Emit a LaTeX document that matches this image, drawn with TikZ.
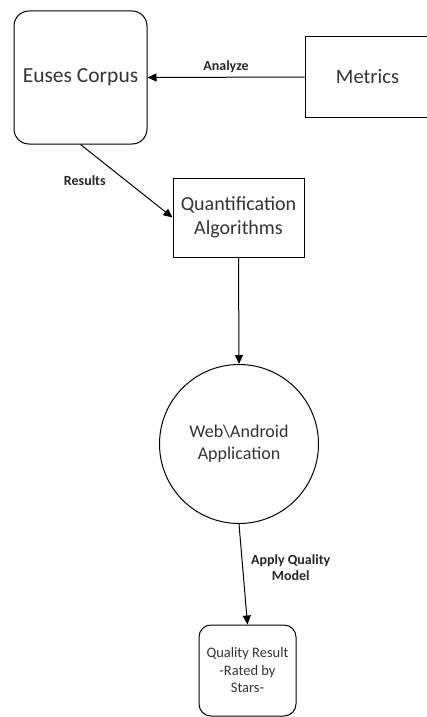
\documentclass[tikz,border=0pt]{standalone}
\usepackage{fontspec}
\setmainfont{Carlito}
\usetikzlibrary{arrows.meta,shapes.geometric}
\tikzset{
  box/.style={draw, line width=1pt, align=center, inner sep=2pt, text=black!80},
  rbox/.style={box, rounded corners=15pt},
  arr/.style={-{Triangle[length=9pt,width=8pt]}, line width=1pt},
  lbl/.style={font=\fontsize{14}{16}\selectfont\bfseries, align=center, text=black!85},
}
\begin{document}
\begin{tikzpicture}[x=1pt,y=-1pt]
  \useasboundingbox (0,0) rectangle (427,717);
  % process boxes
  \node[rbox, minimum width=133pt, minimum height=133pt,
        font=\fontsize{21.5}{25}\selectfont] (euses) at (80.5,77.5) {Euses Corpus};
  \node[box, minimum width=125pt, minimum height=80pt,
        font=\fontsize{20.5}{24}\selectfont] (metrics) at (367.5,77) {Metrics};
  \node[box, minimum width=131pt, minimum height=79pt,
        font=\fontsize{20}{24.5}\selectfont] (quant) at (238.5,217.5) {Quantification\\Algorithms};
  \node[box, circle, minimum size=159pt, inner sep=0pt,
        font=\fontsize{18}{22}\selectfont] (web) at (239,444) {Web\textbackslash Android\\Application};
  \node[rbox, rounded corners=12pt, minimum width=97pt, minimum height=91pt,
        font=\fontsize{14.5}{17.5}\selectfont] (quality) at (247.5,670.5) {Quality Result\\-Rated by\\Stars-};
  % connectors
  \draw[arr] (metrics.west) -- node[lbl, above, yshift=1pt] {Analyze} (euses.east);
  \draw[arr] (euses.south) -- node[lbl, midway, anchor=east, xshift=-17pt] {Results} (quant.west);
  \draw[arr] (quant.south) -- (web.north);
  \draw[arr] (web.south) -- node[lbl, midway, anchor=west, xshift=4pt, yshift=7pt] {Apply Quality\\Model} (quality.north);
\end{tikzpicture}
\end{document}
